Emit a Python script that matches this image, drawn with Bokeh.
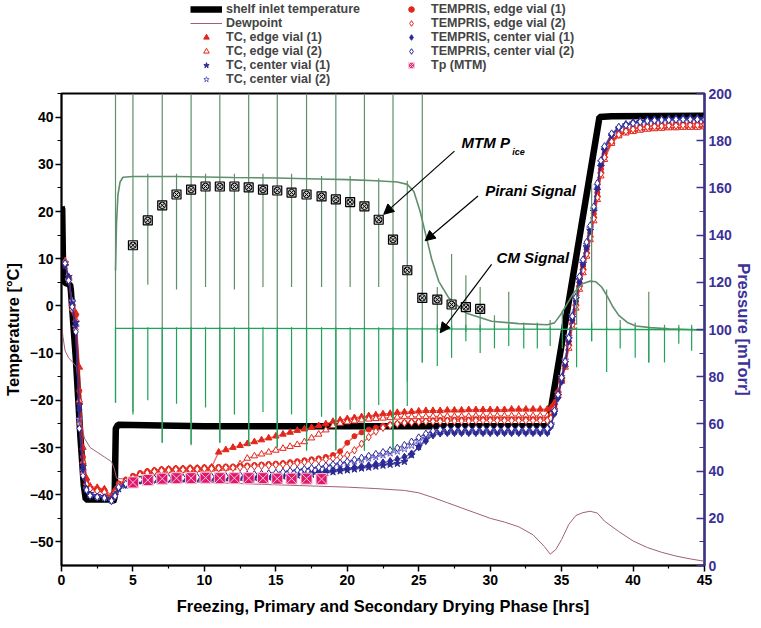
from bokeh.plotting import figure
from bokeh.layouts import column
from bokeh.models import (Range1d, LinearAxis, FixedTicker, Legend, LegendItem,
                          Label, Arrow, NormalHead)
from bokeh.embed import file_html
from bokeh.resources import INLINE

FONT = "Liberation Sans"
RED = "#e3261b"
NAVY = "#2b2a94"
LBLUE = "#6a60cc"
INDIGO = "#3b3197"
PIRANI = "#5f8f6c"
CMCOL = "#1fa35a"
DEW = "#a06078"
TPCOL = "#e0176a"

# ---------------- data ----------------
x_ticks = [0, 5, 10, 15, 20, 25, 30, 35, 40, 45]
x_minor = [2.5, 7.5, 12.5, 17.5, 22.5, 27.5, 32.5, 37.5, 42.5]
t_ticks = [-50, -40, -30, -20, -10, 0, 10, 20, 30, 40]
t_minor = [-45, -35, -25, -15, -5, 5, 15, 25, 35, 45]
p_ticks = [0, 20, 40, 60, 80, 100, 120, 140, 160, 180, 200]
p_minor = [10, 30, 50, 70, 90, 110, 130, 150, 170, 190]

shelf_t = [0.0, 0.05, 0.12, 0.3, 0.6, 0.65, 1.0, 1.33, 1.56, 1.7, 2.5, 3.4, 3.62, 3.72,
           3.8, 3.95, 10, 20, 30, 34.05, 37.65, 38.5, 45.0]
shelf_T = [21, 20.5, 5.5, 4.8, 4.5, 3.5, -11, -28, -38, -41, -41, -41, -41.5, -40.5,
           -26, -25.2, -25.5, -25.5, -25.5, -25.5, 40.0, 40.2, 40.3]

dew_t = [0.0, 0.1, 0.25, 0.5, 0.8, 1.05, 1.2, 1.4, 1.6, 2.0, 2.5, 3.0, 3.5, 3.7, 3.85, 4.0,
         6, 8, 10, 12, 14, 16, 18, 20, 22, 24, 25, 26, 27, 28, 29, 30, 31, 32, 33, 33.8,
         34.2, 34.6, 35.0, 35.5, 36.0, 36.5, 37.0, 37.5, 38.0, 39.0, 40.0, 41.0, 42.0,
         43.0, 44.0, 45.0]
dew_T = [-3.5, -6.5, -9.5, -11, -12, -13, -17, -25, -28, -30, -31, -32, -33, -34.5, -36.5,
         -36.6, -36.9, -37.2, -37.4, -37.6, -37.8, -38.0, -38.2, -38.4, -38.7, -39.1, -39.6,
         -40.6, -41.7, -42.8, -43.9, -45.0, -45.8, -46.8, -48.5, -51.0, -52.6, -51.6, -49.5,
         -46.3, -44.4, -43.8, -43.5, -43.9, -45.6, -47.8, -49.8, -51.2, -52.2, -53.0, -53.6,
         -54.1]

t_prod = [0.25, 0.5, 0.75, 1.0, 1.25, 1.5, 1.75, 2.0, 2.5, 3.0, 3.5, 3.75,
          4.0, 4.5, 5.0, 5.5, 6.0, 6.5, 7.0, 7.5, 8.0, 8.5,
          9.0, 9.5, 10.0, 10.5, 11.0, 11.5, 12.0, 12.5, 13.0, 13.5,
          14.0, 14.5, 15.0, 15.5, 16.0, 16.5, 17.0, 17.5, 18.0, 18.5,
          19.0, 19.5, 20.0, 20.5, 21.0, 21.5, 22.0, 22.5, 23.0, 23.5,
          24.0, 24.5, 25.0, 25.5, 26.0, 26.5, 27.0, 27.5, 28.0, 28.5,
          29.0, 29.5, 30.0, 30.5, 31.0, 31.5, 32.0, 32.5, 33.0, 33.5, 34.0,
          34.25, 34.5, 34.75, 35.0, 35.25, 35.5, 35.75, 36.0, 36.25, 36.5, 36.75,
          37.0, 37.25, 37.5, 37.75, 38.0, 38.5, 39.0,
          39.5, 40.0, 40.5, 41.0, 41.5, 42.0, 42.5, 43.0, 43.5, 44.0, 44.5, 45.0]

tc_edge1 = ([9.0, 6.0, 0.5, -1.5, -13.0, -30.0, -36.5, -38.2, -38.5, -38.8, -40.2, -39.0] +
            [-38.0, -37.0, -36.2, -35.6, -35.2, -34.9, -34.7, -34.6, -34.5, -34.5,
             -34.4, -34.4, -34.3, -34.2, -31.0, -30.5, -30.0, -29.6, -29.2, -28.8,
             -28.4, -28.0, -27.6, -27.2, -26.8, -26.4, -26.1, -25.8, -25.4, -25.0,
             -24.5, -24.2, -23.9, -23.7, -23.5, -23.3, -23.1, -22.9, -22.8, -22.6,
             -22.5, -22.4, -22.3, -22.2, -22.2, -22.2, -22.1, -22.1, -22.1, -22.0,
             -22.0, -22.0, -22.0, -22.0, -22.0, -21.9, -21.9, -21.9, -21.9, -21.9,
             -21.9] +
            [-21.6, -20.5, -18.5, -15.5, -12.5, -8.0, -3.5, 0.5, 4.5, 8.0, 11.5, 15.0,
             19.0, 23.5, 28.5, 31.8, 34.8, 36.2] +
            [36.8, 37.1, 37.3, 37.5, 37.6, 37.7, 37.8, 37.8, 37.9, 37.9, 38.0, 38.0])

tc_edge2 = ([9.5, 5.8, -0.5, -3.0, -20.0, -33.0, -37.5, -38.5, -39.0, -39.2, -40.8, -39.5] +
            [-38.3, -37.3, -36.5, -35.9, -35.5, -35.2, -35.0, -34.9, -34.8, -34.8,
             -34.7, -34.7, -34.6, -34.6, -34.5, -34.4, -34.3, -33.5, -32.3, -31.8,
             -31.4, -31.0, -30.6, -30.2, -29.8, -29.4, -28.8, -28.0, -27.2, -26.3,
             -25.4, -24.9, -24.6, -24.4, -24.2, -24.0, -23.9, -23.8, -23.7, -23.6,
             -23.5, -23.5, -23.5, -23.5, -23.4, -23.4, -23.4, -23.4, -23.4, -23.4,
             -23.3, -23.3, -23.3, -23.3, -23.3, -23.3, -23.3, -23.3, -23.3, -23.3,
             -23.3] +
            [-23.0, -21.5, -19.0, -16.0, -13.0, -9.0, -4.5, -0.5, 3.5, 7.0, 10.5, 14.0,
             18.0, 22.5, 27.5, 31.0, 34.4, 36.0] +
            [36.6, 36.9, 37.2, 37.4, 37.5, 37.6, 37.7, 37.7, 37.8, 37.8, 37.8, 37.9])

tc_center1 = ([8.5, 6.2, 0.8, -3.5, -21.0, -34.0, -38.5, -39.8, -40.2, -40.4, -41.0, -39.8] +
              [-38.8, -38.0, -37.4, -37.1, -37.0, -36.9, -36.8, -36.8, -36.7, -36.7,
               -36.7, -36.6, -36.6, -36.6, -36.5, -36.5, -36.5, -36.4, -36.4, -36.4,
               -36.3, -36.3, -36.2, -36.1, -36.0, -35.9, -35.8, -35.7, -35.6, -35.4,
               -35.2, -35.0, -34.8, -34.6, -34.4, -34.2, -34.0, -33.8, -33.6, -33.4,
               -33.0, -31.6, -29.8, -28.2, -27.0, -26.7, -26.6, -26.6, -26.6, -26.6,
               -26.6, -26.6, -26.6, -26.6, -26.6, -26.6, -26.6, -26.6, -26.6, -26.6,
               -26.6] +
              [-25.3, -22.5, -19.0, -15.5, -12.0, -7.0, -2.5, 1.5, 5.5, 9.0, 12.5, 16.0,
               20.0, 24.5, 29.5, 33.0, 36.0, 37.5] +
              [38.3, 38.7, 39.0, 39.2, 39.3, 39.4, 39.4, 39.5, 39.5, 39.6, 39.6, 39.6])

tc_center2 = ([9.2, 5.5, 1.0, -4.5, -24.0, -35.0, -38.8, -40.0, -40.4, -40.6, -41.2, -40.2] +
              [-38.5, -37.8, -37.2, -36.9, -36.8, -36.7, -36.6, -36.6, -36.5, -36.5,
               -36.4, -36.4, -36.3, -36.3, -36.2, -36.2, -36.1, -36.0, -35.9, -35.8,
               -35.7, -35.6, -35.5, -35.3, -35.1, -34.9, -34.7, -34.5, -34.3, -34.1,
               -33.8, -33.5, -33.2, -32.9, -32.6, -32.3, -32.0, -31.6, -31.2, -30.8,
               -30.3, -29.6, -28.6, -27.6, -26.8, -26.4, -26.2, -26.2, -26.2, -26.2,
               -26.2, -26.2, -26.2, -26.2, -26.2, -26.2, -26.2, -26.2, -26.2, -26.2,
               -26.2] +
              [-25.0, -22.0, -18.5, -15.0, -11.5, -6.5, -2.0, 2.0, 6.0, 9.5, 13.0, 16.5,
               20.5, 25.5, 30.5, 33.5, 36.3, 37.7] +
              [38.2, 38.6, 38.8, 39.0, 39.1, 39.2, 39.2, 39.3, 39.3, 39.3, 39.3, 39.3])

tp_edge1 = ([8.8, 6.0, 0.0, -2.0, -18.0, -32.0, -37.0, -38.6, -38.8, -39.0, -41.0, -39.2] +
            [-37.6, -36.8, -36.0, -35.4, -35.0, -34.8, -34.6, -34.5, -34.4, -34.4,
             -34.3, -34.3, -34.2, -34.2, -34.1, -34.0, -34.0, -33.9, -33.8, -33.7,
             -33.6, -33.5, -33.4, -33.3, -33.1, -32.9, -32.7, -32.5, -32.3, -32.0,
             -31.6, -30.8, -29.0, -27.6, -26.8, -26.2, -25.8, -25.4, -25.1, -24.9,
             -24.7, -24.6, -24.5, -24.4, -24.3, -24.2, -24.2, -24.1, -24.1, -24.1,
             -24.0, -24.0, -24.0, -24.0, -24.0, -24.0, -24.0, -24.0, -24.0, -24.0,
             -24.0] +
            [-23.5, -21.2, -18.2, -15.2, -12.0, -7.5, -3.0, 1.0, 5.0, 8.5, 12.0, 15.5,
             19.5, 24.0, 29.0, 32.2, 35.0, 36.5] +
            [37.2, 37.6, 37.9, 38.1, 38.2, 38.3, 38.4, 38.5, 38.5, 38.6, 38.6, 38.6])

tp_edge2 = ([9.0, 5.6, -0.8, -5.0, -25.0, -35.5, -37.8, -38.8, -39.2, -39.5, -41.0, -39.6] +
            [-38.0, -37.2, -36.4, -35.8, -35.4, -35.1, -34.9, -34.8, -34.7, -34.7,
             -34.6, -34.6, -34.5, -34.5, -34.4, -34.3, -34.3, -34.2, -34.1, -34.0,
             -33.9, -33.8, -33.7, -33.6, -33.5, -33.3, -33.1, -32.9, -32.7, -32.5,
             -32.3, -32.0, -31.6, -30.6, -29.2, -27.8, -26.6, -25.8, -25.3, -25.0,
             -24.8, -24.7, -24.6, -24.5, -24.5, -24.5, -24.4, -24.4, -24.4, -24.4,
             -24.3, -24.3, -24.3, -24.3, -24.3, -24.3, -24.3, -24.3, -24.3, -24.3,
             -24.3] +
            [-23.8, -21.8, -18.8, -15.8, -12.8, -8.5, -4.0, 0.0, 4.0, 7.5, 11.0, 14.5,
             18.5, 23.0, 28.0, 31.5, 34.8, 36.3] +
            [37.0, 37.4, 37.7, 37.9, 38.0, 38.1, 38.2, 38.2, 38.3, 38.3, 38.3, 38.4])

tp_center1 = ([8.6, 6.0, 0.3, -4.0, -22.0, -34.5, -38.8, -40.0, -40.5, -40.6, -41.0, -40.0] +
              [-38.6, -37.9, -37.3, -37.0, -36.9, -36.8, -36.7, -36.7, -36.6, -36.6,
               -36.6, -36.5, -36.5, -36.5, -36.4, -36.4, -36.4, -36.3, -36.3, -36.2,
               -36.2, -36.1, -36.0, -35.9, -35.8, -35.7, -35.6, -35.4, -35.2, -35.0,
               -34.8, -34.6, -34.4, -34.2, -34.0, -33.8, -33.5, -33.2, -32.9, -32.5,
               -32.0, -31.3, -29.9, -28.6, -27.4, -27.0, -26.9, -26.9, -26.9, -26.9,
               -26.9, -26.9, -26.9, -26.9, -26.9, -26.9, -26.9, -26.9, -26.9, -26.9,
               -26.9] +
              [-25.5, -22.8, -19.5, -16.0, -12.5, -7.5, -3.0, 1.0, 5.0, 8.8, 12.3, 16.0,
               20.5, 25.0, 30.0, 33.3, 36.2, 37.8] +
              [38.5, 38.9, 39.2, 39.4, 39.5, 39.6, 39.7, 39.7, 39.8, 39.8, 39.8, 39.8])

tp_center2 = ([9.0, 5.4, -0.2, -5.5, -26.0, -36.0, -39.0, -40.2, -40.5, -40.7, -41.3, -40.3] +
              [-38.4, -37.7, -37.1, -36.8, -36.7, -36.6, -36.5, -36.5, -36.4, -36.4,
               -36.3, -36.3, -36.2, -36.2, -36.1, -36.1, -36.0, -35.9, -35.8, -35.7,
               -35.6, -35.5, -35.4, -35.2, -35.0, -34.8, -34.6, -34.4, -34.2, -33.9,
               -33.6, -33.3, -33.0, -32.6, -32.2, -31.8, -31.4, -31.0, -30.6, -30.1,
               -29.5, -28.8, -27.9, -27.1, -26.5, -26.2, -26.0, -26.0, -26.0, -26.0,
               -26.0, -26.0, -26.0, -26.0, -26.0, -26.0, -26.0, -26.0, -26.0, -26.0,
               -26.0] +
              [-25.2, -22.2, -18.8, -15.2, -11.8, -6.8, -2.2, 1.8, 6.2, 9.8, 13.5, 17.0,
               21.0, 26.0, 30.8, 33.8, 36.5, 37.9] +
              [38.3, 38.7, 39.0, 39.2, 39.3, 39.4, 39.4, 39.5, 39.5, 39.5, 39.5, 39.5])

# MTM test times, MTM P_ice [mTorr] and Tp (MTM) [degC]
mtm_t = [5.0, 6.04, 7.05, 8.05, 9.07, 10.08, 11.08, 12.1, 13.1, 14.1, 15.1, 16.1, 17.15,
         18.2, 19.2, 20.2, 21.2, 22.2, 23.2, 24.2, 25.25, 26.3, 27.3, 28.3, 29.3]
mtm_pice = [135.7, 146.2, 152.6, 157.2, 159.3, 160.6, 160.6, 160.6, 160.2, 159.3, 158.9,
            158.0, 157.2, 156.4, 155.1, 154.0, 152.2, 146.5, 138.1, 125.1, 113.4, 112.7,
            110.6, 109.5, 108.7]
tpm_t = [5.0, 6.04, 7.05, 8.05, 9.07, 10.08, 11.08, 12.1, 13.1, 14.1, 15.1, 16.1, 17.15, 18.2]
tpm_T = [-37.4, -36.9, -36.6, -36.5, -36.5, -36.4, -36.5, -36.5, -36.5, -36.5, -36.6, -36.6,
         -36.6, -36.7]

# Pirani and capacitance manometer signals [mTorr]
pir_t = [3.78, 3.85, 3.95, 4.1, 4.3, 5, 8, 10, 12, 15, 18, 20, 22, 23.5, 24.2, 24.66, 25.1,
         25.5, 25.9, 26.4, 27.1, 28.3, 30.1, 32, 34.0, 34.5, 34.9, 35.4, 35.9, 36.5, 37.0,
         37.4, 37.8, 38.2, 38.6, 39.0, 39.6, 40.2, 41.2, 42.5, 44.0, 45.0]
pir_p = [125, 145, 157, 162.5, 164.5, 164.8, 164.8, 164.6, 164.4, 164.2, 163.8, 163.5, 163,
         162.5, 161.5, 158.5, 150, 140, 130, 120.4, 113.4, 107, 103.5, 102.5, 102, 102.8,
         106, 111, 116, 119.5, 120.5, 120.2, 118, 114, 109.5, 106, 103, 101.5, 100.8,
         100.3, 100, 99.8]
cm_t = [3.78, 10, 20, 30, 40, 45]
cm_p = [100.5, 100.5, 100.4, 100.2, 100.0, 99.8]

spike_t = [3.78, 5.0, 6.04, 7.05, 8.05, 9.07, 10.08, 11.08, 12.1, 13.1, 14.1, 15.1, 16.1,
           17.15, 18.2, 19.2, 20.2, 21.2, 22.2, 23.2, 24.2, 25.25, 26.3, 27.3, 28.3, 29.3,
           30.3, 31.3, 32.35, 33.3, 34.2, 35.05, 36.05, 37.1, 38.15, 39.1, 40.15, 41.1,
           42.2, 43.2, 44.1]
pir_hi = [200, 200, 166, 200, 166, 200, 166, 200, 166, 200, 166, 200, 166, 200, 165, 200,
          165, 200, 164, 200, 163, 200, 118, 132, 123, 118, 106, 116, 103, 103, 104, 108,
          118, 162, 117, 104, 103, 116, 102, 102, 102]
pir_lo = [69, 65, 119, 52, 117, 51, 118, 52, 117, 51, 118, 50, 118, 49, 118, 49, 118, 49,
          118, 49, 78, 86, 99, 99, 99, 99, 100, 100, 100, 100, 100, 100, 102, 95, 100, 100,
          100, 86, 99, 99, 99]
cm_lo = [69, 64, 70, 52, 68.5, 51.5, 67, 52, 64, 50.5, 65, 50, 64, 48.6, 63, 48.6, 66, 48.6,
         68, 48.6, 67.6, 86, 84.5, 88, 95, 90, 92, 93, 92, 92, 93, 92, 84, 95, 82, 92, 88,
         86, 86, 94, 91]
cm_hi = [101, 101, 101, 101, 101, 101, 101, 101, 101, 101, 101, 101, 101, 101, 101, 101,
         101, 101, 101, 101, 101, 101, 102, 102, 102, 102, 102, 102, 101, 102, 101, 102, 101,
         103, 101, 101, 101, 101, 101, 101, 101]

# annotation anchor positions (hours, degC)
ann_mtm = (28.0, 34.6)
ann_mtm_sub = (31.55, 32.7)
ann_pir = (29.65, 24.4)
ann_cm = (30.45, 10.2)
arr_mtm = (27.5, 32.8, 22.55, 19.4)
arr_pir = (29.15, 23.3, 25.45, 13.8)
arr_cm = (30.1, 8.8, 26.5, -5.7)

# ---------------- main figure ----------------
LEG_H = 86
TOP_B = 7
LB, RB = 61, 57
p = figure(width=761, height=628 - LEG_H, x_range=Range1d(0, 45), y_range=Range1d(-55, 45),
           output_backend="svg", toolbar_location=None,
           min_border_left=LB, min_border_right=RB, min_border_top=TOP_B,
           min_border_bottom=628 - LEG_H - TOP_B - 472)
p.extra_y_ranges = {"press": Range1d(0, 200)}
p.xgrid.visible = False
p.ygrid.visible = False
p.outline_line_color = "black"
p.outline_line_width = 2
p.background_fill_color = "white"
p.border_fill_color = "white"


def style_axis(ax, color, label_standoff):
    ax.axis_line_color = color
    ax.major_tick_line_color = color
    ax.minor_tick_line_color = color
    ax.major_label_text_color = color
    ax.axis_label_text_color = color
    ax.axis_line_width = 1.5
    ax.major_tick_line_width = 1.5
    ax.minor_tick_line_width = 1.2
    ax.major_label_text_font = FONT
    ax.major_label_text_font_style = "bold"
    ax.major_label_text_font_size = "14px"
    ax.axis_label_text_font = FONT
    ax.axis_label_text_font_style = "bold"
    ax.axis_label_text_font_size = "16.5px"
    ax.axis_label_standoff = label_standoff


xa = p.xaxis[0]
xa.ticker = FixedTicker(ticks=x_ticks, minor_ticks=x_minor)
xa.axis_label = "Freezing, Primary and Secondary Drying Phase [hrs]"
style_axis(xa, "black", 9)
xa.major_tick_in = 0
xa.major_tick_out = 6
xa.minor_tick_in = 0
xa.minor_tick_out = 3
xa.major_label_standoff = 3

ya = p.yaxis[0]
ya.ticker = FixedTicker(ticks=t_ticks, minor_ticks=t_minor)
ya.axis_label = "Temperature [°C]"
style_axis(ya, "black", 5)
ya.major_tick_in = 0
ya.major_tick_out = 6
ya.minor_tick_in = 0
ya.minor_tick_out = 4
ya.major_label_standoff = 2

ra = LinearAxis(y_range_name="press", axis_label="Pressure [mTorr]",
                ticker=FixedTicker(ticks=p_ticks, minor_ticks=p_minor))
style_axis(ra, INDIGO, 0)
ra.axis_line_width = 2
ra.major_tick_in = 8
ra.major_tick_out = 0
ra.minor_tick_in = 5
ra.minor_tick_out = 0
ra.major_label_standoff = 4
p.add_layout(ra, "right")

# shelf and dewpoint
p.line(shelf_t, shelf_T, line_color="black", line_width=6.5)
p.line(dew_t, dew_T, line_color=DEW, line_width=1)

# product temperatures
series = [
    ("TC, edge vial (1)", tc_edge1, "triangle", RED, RED, 6.5),
    ("TC, edge vial (2)", tc_edge2, "triangle", "white", RED, 6.5),
    ("TC, center vial (1)", tc_center1, "star", NAVY, NAVY, 7.5),
    ("TC, center vial (2)", tc_center2, "star", "white", LBLUE, 7.5),
    ("TEMPRIS, edge vial (1)", tp_edge1, "circle", RED, RED, 5),
    ("TEMPRIS, edge vial (2)", tp_edge2, "diamond", "white", RED, 7.5),
    ("TEMPRIS, center vial (1)", tp_center1, "diamond", NAVY, NAVY, 7.5),
    ("TEMPRIS, center vial (2)", tp_center2, "diamond", "white", NAVY, 7.5),
]
for name, vals, mk, fc, lc, sz in series:
    p.line(t_prod, vals, line_color=lc, line_width=1.3, line_alpha=0.7)
    p.scatter(t_prod, vals, marker=mk, size=sz, fill_color=fc, line_color=lc, line_width=1)

# pressure signals
p.line(pir_t, pir_p, y_range_name="press", line_color=PIRANI, line_width=1.6)
p.segment(x0=spike_t, y0=pir_lo, x1=spike_t, y1=pir_hi, y_range_name="press",
          line_color=PIRANI, line_width=1.2)
p.line(cm_t, cm_p, y_range_name="press", line_color=CMCOL, line_width=1.3)
p.segment(x0=spike_t, y0=cm_lo, x1=spike_t, y1=cm_hi, y_range_name="press",
          line_color=CMCOL, line_width=1.2)

# MTM P_ice
p.scatter(mtm_t, mtm_pice, y_range_name="press", marker="square", size=9,
          fill_color="#d0d0d0", line_color="black", line_width=1.2)
p.scatter(mtm_t, mtm_pice, y_range_name="press", marker="circle_x", size=6.5,
          fill_color=None, line_color="black", line_width=1)

# Tp (MTM)
p.scatter(tpm_t, tpm_T, marker="square_x", size=11, fill_color=TPCOL,
          line_color="#f6c8da", line_width=1)


# annotations
def lab(pos, text, size):
    return Label(x=pos[0], y=pos[1], text=text, text_font=FONT,
                 text_font_style="bold italic", text_font_size=size,
                 text_baseline="middle", text_color="black")


p.add_layout(lab(ann_mtm, "MTM P", "15px"))
p.add_layout(lab(ann_mtm_sub, "ice", "9px"))
p.add_layout(lab(ann_pir, "Pirani Signal", "15px"))
p.add_layout(lab(ann_cm, "CM Signal", "15px"))
for a in (arr_mtm, arr_pir, arr_cm):
    p.add_layout(Arrow(end=NormalHead(size=10, fill_color="black", line_color="black"),
                       x_start=a[0], y_start=a[1], x_end=a[2], y_end=a[3],
                       line_color="black", line_width=1.2))

# ---------------- legend strip above the plot ----------------
# the series are re-drawn here outside the visible range, only to feed the legend;
# borders equal the main plot's, so the column keeps both frames aligned
lf = figure(width=761, height=LEG_H, x_range=Range1d(0, 1), y_range=Range1d(500, 501),
            output_backend="svg", toolbar_location=None,
            min_border_left=LB, min_border_right=RB, min_border_top=0, min_border_bottom=0)
lf.axis.visible = False
lf.xgrid.visible = False
lf.ygrid.visible = False
lf.outline_line_color = None
lf.background_fill_color = "white"
lf.border_fill_color = "white"

g_shelf = lf.line(shelf_t, shelf_T, line_color="black", line_width=6.5)
g_dew = lf.line(dew_t, dew_T, line_color=DEW, line_width=1)
g_prod = []
for name, vals, mk, fc, lc, sz in series:
    g_prod.append(lf.scatter(t_prod, vals, marker=mk, size=sz, fill_color=fc, line_color=lc,
                             line_width=1))
g_tp = lf.scatter(tpm_t, tpm_T, marker="square_x", size=11, fill_color=TPCOL,
                  line_color="#f6c8da", line_width=1)

left_items = [LegendItem(label="shelf inlet temperature", renderers=[g_shelf]),
              LegendItem(label="Dewpoint", renderers=[g_dew])]
left_items += [LegendItem(label=series[i][0], renderers=[g_prod[i]]) for i in range(4)]
right_items = [LegendItem(label=series[i][0], renderers=[g_prod[i]]) for i in range(4, 8)]
right_items.append(LegendItem(label="Tp (MTM)", renderers=[g_tp]))

ROW = 14.3  # measured legend row pitch for 12.5px text


def make_legend(items, x):
    h = len(items) * ROW
    return Legend(items=items, location=(x, LEG_H - h), orientation="vertical",
                  label_text_font=FONT, label_text_font_style="bold",
                  label_text_font_size="12.5px", label_standoff=4,
                  glyph_width=32, glyph_height=14, label_height=14, spacing=0,
                  padding=0, margin=0, border_line_alpha=0, background_fill_alpha=0)


lf.add_layout(make_legend(left_items, 190 - LB))
lf.add_layout(make_legend(right_items, 395 - LB))

layout = column(lf, p, spacing=0)
open("out.html", "w").write(file_html(layout, INLINE))
